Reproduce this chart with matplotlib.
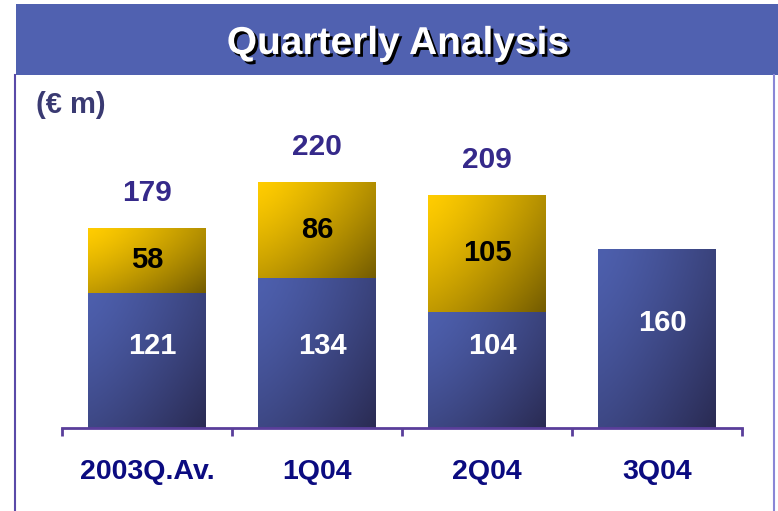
import numpy as np
import matplotlib.pyplot as plt
import matplotlib.patheffects as pe
from matplotlib.colors import LinearSegmentedColormap
from matplotlib.patches import Rectangle
from matplotlib.lines import Line2D

plt.rcParams['font.family'] = ['Liberation Sans', 'DejaVu Sans']

# data (EUR m)
categories = ['2003Q.Av.', '1Q04', '2Q04', '3Q04']
base_vals = [121, 134, 104, 160]
top_vals = [58, 86, 105, 0]
totals = [179, 220, 209, None]

blue_cm = LinearSegmentedColormap.from_list('b', ['#4d5fad', '#2a2b53'])
gold_cm = LinearSegmentedColormap.from_list('g', ['#ffcc00', '#745c00'])

# diagonal gradient, light top-left -> dark bottom-right
gx, gy = np.meshgrid(np.linspace(0, 1, 64), np.linspace(0, 1, 64))
grad = (0.55 * gx ** 1.3 + 0.45 * gy ** 1.3)


def grad_bar(ax, x, y0, h, w, cmap):
    rect = Rectangle((x - w / 2, y0), w, h, facecolor='none', edgecolor='none')
    ax.add_patch(rect)
    im = ax.imshow(grad, cmap=cmap, extent=(x - w / 2, x + w / 2, y0, y0 + h),
                   aspect='auto', interpolation='bilinear', zorder=2)
    im.set_clip_path(rect)


fig = plt.figure(figsize=(7.78, 5.11), dpi=100)
W, H = 778, 511

# title banner
fig.patches.append(Rectangle((16 / W, 1 - 75 / H), 1, 71 / H, transform=fig.transFigure,
                             facecolor='#5061b0', edgecolor='none'))
fig.text(398 / W, 1 - 54 / H, 'Quarterly Analysis', color='white', fontsize=28,
         fontweight='bold', ha='center', va='baseline',
         path_effects=[pe.withSimplePatchShadow(offset=(2, -2), shadow_rgbFace='black', alpha=1)])
fig.lines.append(Line2D([15 / W, 15 / W], [0, 1 - 75 / H], transform=fig.transFigure,
                        color='#5a4aa8', lw=1.5))
fig.lines.append(Line2D([774 / W, 774 / W], [0, 1 - 75 / H], transform=fig.transFigure,
                        color='#8a86d6', lw=1.5))
fig.text(36 / W, 1 - 113 / H, '(€ m)', color='#3a3a72', fontsize=21, fontweight='bold',
         ha='left', va='baseline')

ax = fig.add_axes([62 / W, 1 - 428 / H, 680 / W, 353 / H])
ax.set_xlim(0, 4)
ax.set_ylim(0, 316)

xs = np.arange(len(categories)) + 0.5
bw = 0.69
for x, b, t, tot in zip(xs, base_vals, top_vals, totals):
    grad_bar(ax, x, 0, b, bw, blue_cm)
    ly = 73 if t else b * 0.59
    ax.text(x + 0.03, ly, str(b), color='white', fontsize=21, fontweight='bold',
            ha='center', va='center', zorder=3)
    if t:
        grad_bar(ax, x, b, t, bw, gold_cm)
        ax.text(x, b + t / 2, str(t), color='black', fontsize=21, fontweight='bold',
                ha='center', va='center', zorder=3)
    if tot:
        ax.text(x, tot + 24, str(tot), color='#35298a', fontsize=21.5, fontweight='bold',
                ha='center', va='baseline', zorder=3)

for s in ['top', 'right', 'left']:
    ax.spines[s].set_visible(False)
ax.spines['bottom'].set_color('#5a3e9a')
ax.spines['bottom'].set_linewidth(2)
ax.set_yticks([])
ax.set_xticks(np.arange(5))
ax.set_xticklabels([])
ax.tick_params(axis='x', which='major', direction='out', length=6, width=2, color='#5a3e9a')

# category labels under the axis
for x, c in zip(xs, categories):
    ax.text(x, -51 / 353, c, transform=ax.get_xaxis_transform(), fontsize=20.5,
            fontweight='bold', color='#0b0b80', ha='center', va='baseline')
ax.patch.set_alpha(0)

fig.savefig('out.png', dpi=100)
